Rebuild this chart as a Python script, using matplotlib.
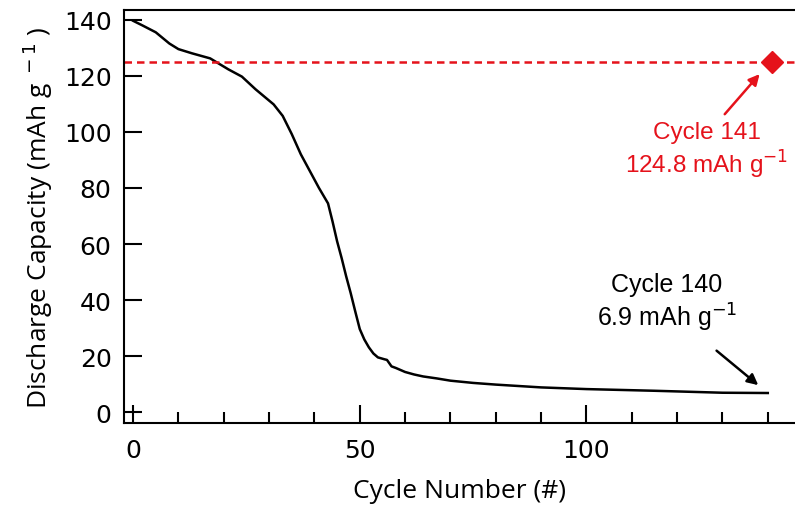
import numpy as np
import matplotlib
matplotlib.use('Agg')
import matplotlib.pyplot as plt
from matplotlib.ticker import MultipleLocator

# 放电容量曲线
cycles = [0, 2, 5, 8, 10, 13, 17, 21, 24, 27, 31, 33, 35, 37, 39, 41, 43,
          44, 45, 46, 47, 48, 49, 50, 51, 52, 53, 54, 55.5, 56, 57, 58, 60,
          62, 64, 67, 70, 75, 80, 90, 100, 115, 130, 140]
capacity = [139.6, 138.0, 135.5, 131.5, 129.5, 128.0, 126.2, 122.3, 119.7,
            115.2, 109.8, 105.7, 99.2, 92.0, 86.0, 80.0, 74.5, 68.0, 61.0,
            55.0, 48.5, 42.5, 36.0, 29.7, 26.0, 23.2, 21.0, 19.6, 18.9, 18.7,
            16.4, 15.8, 14.4, 13.5, 12.8, 12.1, 11.3, 10.5, 9.9, 8.9, 8.3,
            7.7, 7.0, 6.9]

# 恢复后的点
recovered_cycle = 141
recovered_cap = 124.8
last_cycle = 140
last_cap = 6.9

red = '#e5121b'

fig = plt.figure(figsize=(7.95, 5.06), dpi=100)
ax = fig.add_axes([0.156, 0.162, 0.844, 0.816])

ax.plot(cycles, capacity, color='black', lw=1.8)
ax.axhline(recovered_cap, color=red, lw=1.8, ls=(0, (3, 2)))
ax.plot([recovered_cycle], [recovered_cap], marker='D', color=red, ms=11,
        clip_on=False, zorder=5)

ax.set_xlim(-2, 146)
ax.set_ylim(-3.8, 143.4)
ax.xaxis.set_major_locator(MultipleLocator(50))
ax.xaxis.set_minor_locator(MultipleLocator(10))
ax.yaxis.set_major_locator(MultipleLocator(20))

for lab in ax.get_xticklabels() + ax.get_yticklabels():
    lab.set_fontsize(18)
ax.tick_params(axis='both', which='major', direction='in', length=13,
               width=1.5, pad=9)
ax.tick_params(axis='x', which='minor', direction='in', length=8, width=1.5)
ax.tick_params(axis='x', which='major', pad=11)

ax.spines['right'].set_visible(False)
for s in ['left', 'bottom', 'top']:
    ax.spines[s].set_linewidth(1.5)

ax.set_xlabel('Cycle Number (#)', fontsize=19, family='Open Sans', labelpad=11)
ax.set_ylabel('Discharge Capacity (mAh g$^{\\ -1}$ )', fontsize=19,
              family='Open Sans', labelpad=6)

# 红色标注：第141圈
ax.text(126.6, 93.5, 'Cycle 141\n124.8 mAh g$^{-1}$', color=red, fontsize=17.5,
        family='Liberation Sans', ha='center', va='center', linespacing=1.2,
        clip_on=False)
ax.annotate('', xy=(138.2, 120.6), xytext=(130.5, 106.3),
            annotation_clip=False,
            arrowprops=dict(arrowstyle='-|>', color=red, lw=1.8,
                            mutation_scale=16, shrinkA=0, shrinkB=0))

# 黑色标注：第140圈
ax.text(117.7, 39.2, 'Cycle 140\n6.9 mAh g$^{-1}$', color='black', fontsize=18,
        family='Liberation Sans', ha='center', va='center', linespacing=1.2)
ax.annotate('', xy=(137.9, 9.7), xytext=(128.7, 22.0),
            arrowprops=dict(arrowstyle='-|>', color='black', lw=1.8,
                            mutation_scale=16, shrinkA=0, shrinkB=0))

fig.savefig('out.png', dpi=100)
